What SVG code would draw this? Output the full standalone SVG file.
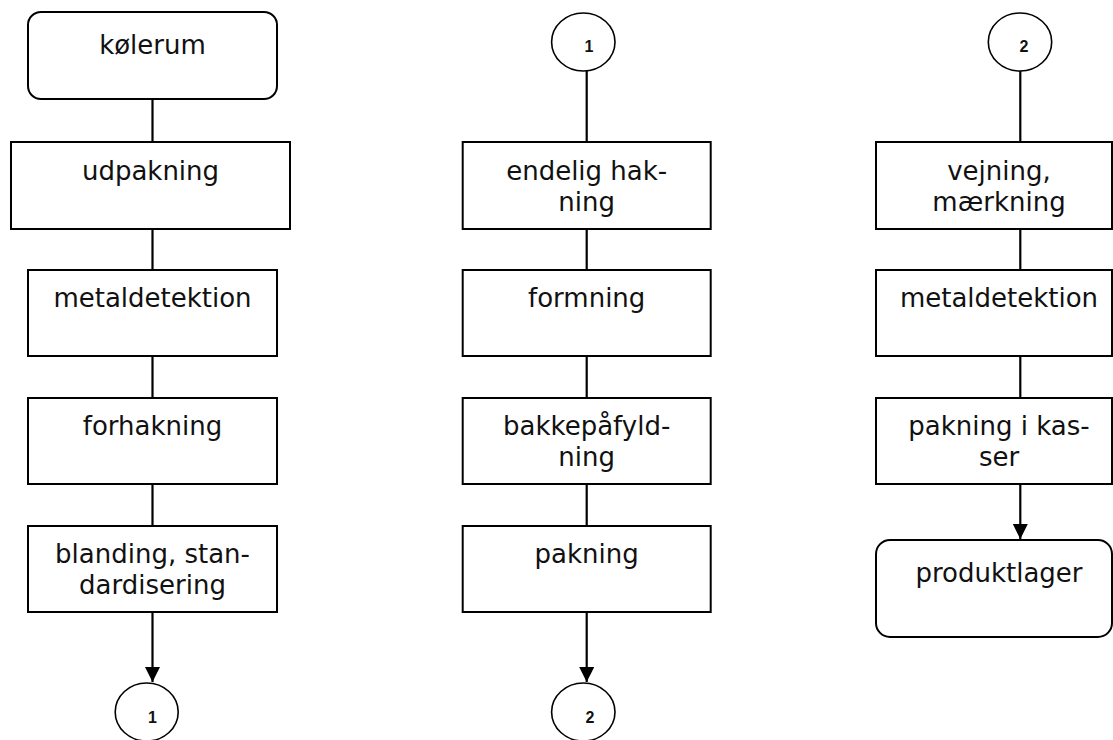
<svg xmlns="http://www.w3.org/2000/svg" width="1113" height="740" viewBox="0 0 1113 740">
<style>
.box{fill:#fff;stroke:#000;stroke-width:2}
.circ{fill:#fff;stroke:#000;stroke-width:1.6}
.t{font-family:"DejaVu Sans",Verdana,sans-serif;font-size:26px;fill:#111;text-anchor:middle}
.n{font-family:"Liberation Sans",Arial,sans-serif;font-size:16px;font-weight:bold;fill:#111;text-anchor:middle}
.c{stroke:#000;stroke-width:2.2;fill:none}
</style>
<defs>
<marker id="ah" markerUnits="userSpaceOnUse" markerWidth="16" markerHeight="16" refX="15" refY="7.5" orient="auto">
<path d="M0,0 L15,7.5 L0,15 Z" fill="#000"/>
</marker>
</defs>
<g id="connectors">
<line class="c" x1="152.5" y1="99" x2="152.5" y2="142"/>
<line class="c" x1="152.5" y1="229" x2="152.5" y2="270"/>
<line class="c" x1="152.5" y1="356" x2="152.5" y2="398"/>
<line class="c" x1="152.5" y1="484" x2="152.5" y2="526"/>
<line class="c" x1="152.5" y1="612" x2="152.5" y2="682" marker-end="url(#ah)"/>
<line class="c" x1="586.7" y1="71" x2="586.7" y2="142"/>
<line class="c" x1="586.7" y1="229" x2="586.7" y2="270"/>
<line class="c" x1="586.7" y1="356" x2="586.7" y2="398"/>
<line class="c" x1="586.7" y1="484" x2="586.7" y2="526"/>
<line class="c" x1="586.7" y1="612" x2="586.7" y2="682" marker-end="url(#ah)"/>
<line class="c" x1="1020.3" y1="71" x2="1020.3" y2="142"/>
<line class="c" x1="1020.3" y1="229" x2="1020.3" y2="270"/>
<line class="c" x1="1020.3" y1="356" x2="1020.3" y2="398"/>
<line class="c" x1="1020.3" y1="484" x2="1020.3" y2="539" marker-end="url(#ah)"/>
</g>
<g id="kolerum"><rect class="box" x="28" y="12" width="249" height="87" rx="13"/><text class="t" x="152.5" y="54">kølerum</text></g>
<g id="udpakning"><rect class="box" x="11" y="142" width="279" height="87"/><text class="t" x="150.5" y="180">udpakning</text></g>
<g id="metaldetektion1"><rect class="box" x="28" y="270" width="249" height="86"/><text class="t" x="152.5" y="307">metaldetektion</text></g>
<g id="forhakning"><rect class="box" x="28" y="398" width="249" height="86"/><text class="t" x="152.5" y="435">forhakning</text></g>
<g id="blanding"><rect class="box" x="28" y="526" width="249" height="86"/><text class="t" x="152.5" y="563">blanding, stan-</text><text class="t" x="152.5" y="594">dardisering</text></g>
<g id="conn1a"><ellipse class="circ" cx="146.7" cy="712" rx="31.5" ry="29"/><text class="n" x="152.5" y="723">1</text></g>
<g id="conn1b"><ellipse class="circ" cx="583.3" cy="42" rx="31.7" ry="29"/><text class="n" x="589" y="52">1</text></g>
<g id="endelig"><rect class="box" x="462.7" y="142" width="248" height="87"/><text class="t" x="586.7" y="180">endelig hak-</text><text class="t" x="586.7" y="211">ning</text></g>
<g id="formning"><rect class="box" x="462.7" y="270" width="248" height="86"/><text class="t" x="586.7" y="307">formning</text></g>
<g id="bakke"><rect class="box" x="462.7" y="398" width="248" height="86"/><text class="t" x="586.7" y="435">bakkepåfyld-</text><text class="t" x="586.7" y="466">ning</text></g>
<g id="pakning"><rect class="box" x="462.7" y="526" width="248" height="86"/><text class="t" x="586.7" y="563">pakning</text></g>
<g id="conn2a"><ellipse class="circ" cx="583.3" cy="712" rx="31.7" ry="29"/><text class="n" x="590" y="723">2</text></g>
<g id="conn2b"><ellipse class="circ" cx="1020" cy="42" rx="31.7" ry="29"/><text class="n" x="1024" y="52">2</text></g>
<g id="vejning"><rect class="box" x="876" y="142" width="236" height="87"/><text class="t" x="999" y="180">vejning,</text><text class="t" x="999" y="211">mærkning</text></g>
<g id="metaldetektion2"><rect class="box" x="876" y="270" width="236" height="86"/><text class="t" x="999" y="307">metaldetektion</text></g>
<g id="kasser"><rect class="box" x="876" y="398" width="236" height="86"/><text class="t" x="999" y="435">pakning i kas-</text><text class="t" x="999" y="466">ser</text></g>
<g id="produktlager"><rect class="box" x="876" y="540" width="236" height="97" rx="14"/><text class="t" x="999" y="582">produktlager</text></g>
</svg>
